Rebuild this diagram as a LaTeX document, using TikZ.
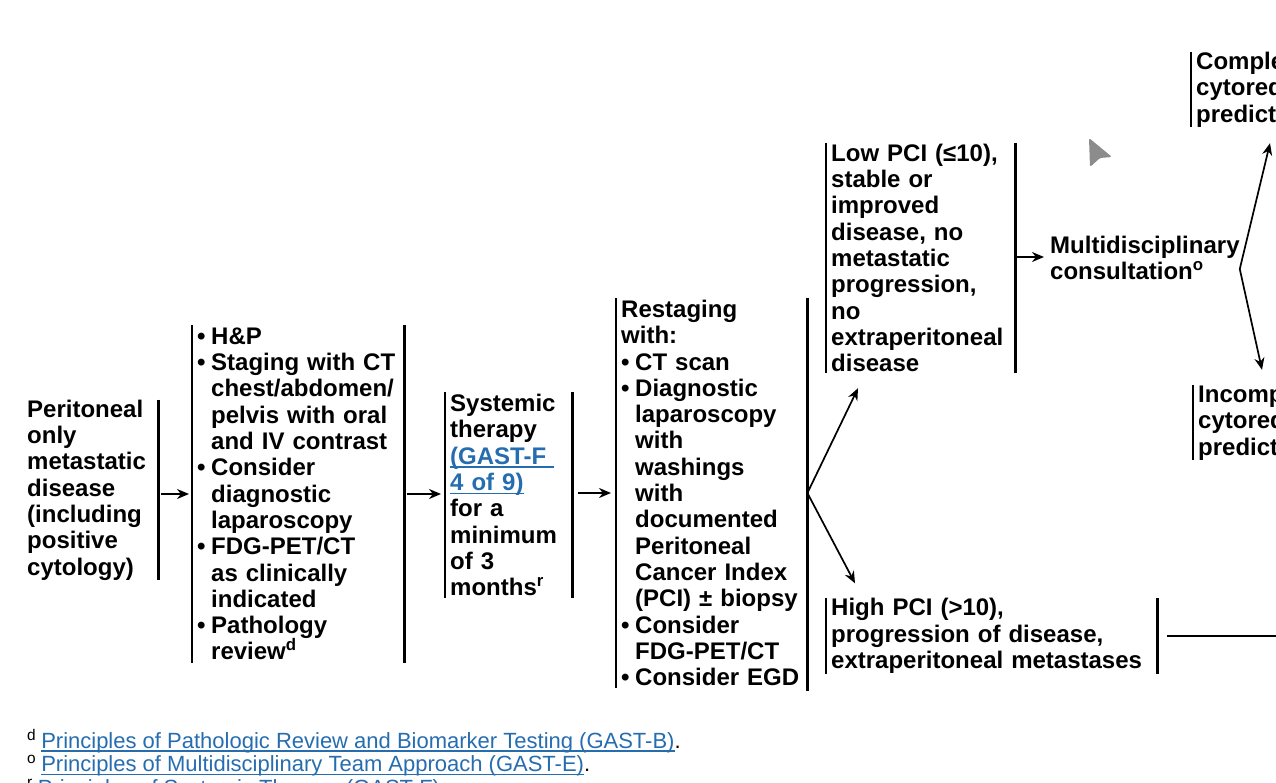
\documentclass[tikz,border=0pt]{standalone}
\usepackage{fontspec}
\setmainfont{Liberation Sans}
\usetikzlibrary{arrows.meta}
\definecolor{linkblue}{RGB}{38,109,176}
\newcommand\lnk[1]{\leavevmode{\color{linkblue}\setbox0\hbox{#1}\rlap{\rule[-3.8pt]{\wd0}{1.5pt}}\box0}}
\newcommand\bl{\makebox[14pt][l]{\textbullet}}
\newcommand\ind{\hspace*{14pt}}

\begin{document}
\begin{tikzpicture}[x=1pt,y=-1pt,
  stepbox/.style={anchor=west,align=left,inner xsep=5pt,inner ysep=0pt,
    font=\bfseries\fontsize{24}{26.3}\selectfont},
  fnote/.style={anchor=base west,inner sep=0pt,font=\fontsize{22}{24}\selectfont},
  bar/.style={line width=2.3pt},
  arrow/.style={line width=2.2pt,-{Stealth[length=12pt,width=10pt]}},
  thinarrow/.style={line width=1.7pt,-{Stealth[length=12pt,width=10pt]}}]
\useasboundingbox (0,0) rectangle (1276,783);
\clip (0,0) rectangle (1276,783);

% boxes
\node[stepbox,text width=126pt,minimum height=180pt] (peri) at (22,490)
  {Peritoneal\\only\\metastatic\\disease\\(including\\positive\\cytology)};
\node[stepbox,text width=202pt,minimum height=338pt] (stage) at (192,494)
  {\bl H\&P\\\bl Staging with CT\\\ind chest/abdomen/\\\ind pelvis with oral\\\ind and IV contrast\\
   \bl Consider\\\ind diagnostic\\\ind laparoscopy\\\bl FDG-PET/CT\\\ind as clinically\\\ind indicated\\
   \bl Pathology\\\ind review\textsuperscript{d}};
\node[stepbox,text width=117pt,minimum height=206pt] (sys) at (445,495)
  {Systemic\\therapy\\\lnk{(GAST-F\ }\\\lnk{4 of 9)}\\for a\\minimum\\of 3\\months\textsuperscript{r}};
\node[stepbox,text width=181pt,minimum height=390pt] (restage) at (616,493)
  {Restaging\\with:\\\bl CT scan\\\bl Diagnostic\\\ind laparoscopy\\\ind with\\\ind washings\\\ind with\\
   \ind documented\\\ind Peritoneal\\\ind Cancer Index\\\ind (PCI) ± biopsy\\\bl Consider\\
   \ind FDG-PET/CT\\\bl Consider EGD};
\node[stepbox,text width=179pt,minimum height=230pt] (low) at (826,258)
  {Low PCI (≤10),\\stable or\\improved\\disease, no\\metastatic\\progression,\\no\\extraperitoneal\\disease};
\node[stepbox,text width=321pt,minimum height=75pt] (high) at (826,636)
  {High PCI (>10),\\progression of disease,\\extraperitoneal metastases};
\node[stepbox] (multi) at (1045,258) {Multidisciplinary\\consultation\textsuperscript{o}};
\node[stepbox,minimum height=75pt] (complete) at (1191,89.5) {Complete\\cytoreduction\\predicted};
\node[stepbox,minimum height=75pt] (incomplete) at (1193,422.5) {Incomplete\\cytoreduction\\predicted};

% bars
\draw[bar] (peri.north east) -- (peri.south east);
\draw[bar] (stage.north west) -- (stage.south west) (stage.north east) -- (stage.south east);
\draw[bar] (sys.north west) -- (sys.south west) (sys.north east) -- (sys.south east);
\draw[bar] (restage.north west) -- (restage.south west) (restage.north east) -- ([yshift=-3pt]restage.south east);
\draw[bar] (low.north west) -- (low.south west) (low.north east) -- (low.south east);
\draw[bar] (high.north west) -- (high.south west) (high.north east) -- (high.south east);
\draw[bar] (complete.north west) -- (complete.south west);
\draw[bar] (incomplete.north west) -- (incomplete.south west);

% arrows
\draw[arrow,shorten <=3pt,shorten >=3pt] (stage.west -| peri.east) -- (stage.west);
\draw[arrow,shorten <=3pt,shorten >=4pt] (stage.east) -- (stage.east -| sys.west);
\draw[arrow,shorten <=6pt,shorten >=5pt] (restage.west -| sys.east) -- (restage.west);
\draw[arrow,shorten <=2pt,shorten >=1pt] ([yshift=1pt]low.east) -- ([yshift=1pt]low.east -| multi.west);
\draw[thinarrow] (restage.east) -- ([shift={(32,15)}]low.south west);
\draw[thinarrow] (restage.east) -- ([shift={(29,-15)}]high.north west);
\draw[thinarrow,{Stealth[length=12pt,width=10pt]}-{Stealth[length=12pt,width=10pt]}]
  ([shift={(79,16)}]complete.south west) -- ([shift={(-5,11)}]multi.east)
  -- ([shift={(69,-15)}]incomplete.north west);
\draw[bar] ([xshift=10pt]high.east) -- ++(140,0);

% page marker
\fill[gray!90,rounded corners=1.5pt] (1089,138) -- (1112,157) -- (1100,158) -- (1090,167) -- cycle;

% footnotes
\node[fnote] (fnd) at (27,748) {\textsuperscript{d}\hspace{5pt}\lnk{Principles of Pathologic Review and Biomarker Testing (GAST-B)}.};
\node[fnote] (fno) at (27,771.5) {\textsuperscript{o}\hspace{5pt}\lnk{Principles of Multidisciplinary Team Approach (GAST-E)}.};
\node[fnote] (fnr) at (27,795) {\textsuperscript{r}\hspace{5pt}\lnk{Principles of Systemic Therapy (GAST-F)}.};
\end{tikzpicture}
\end{document}
